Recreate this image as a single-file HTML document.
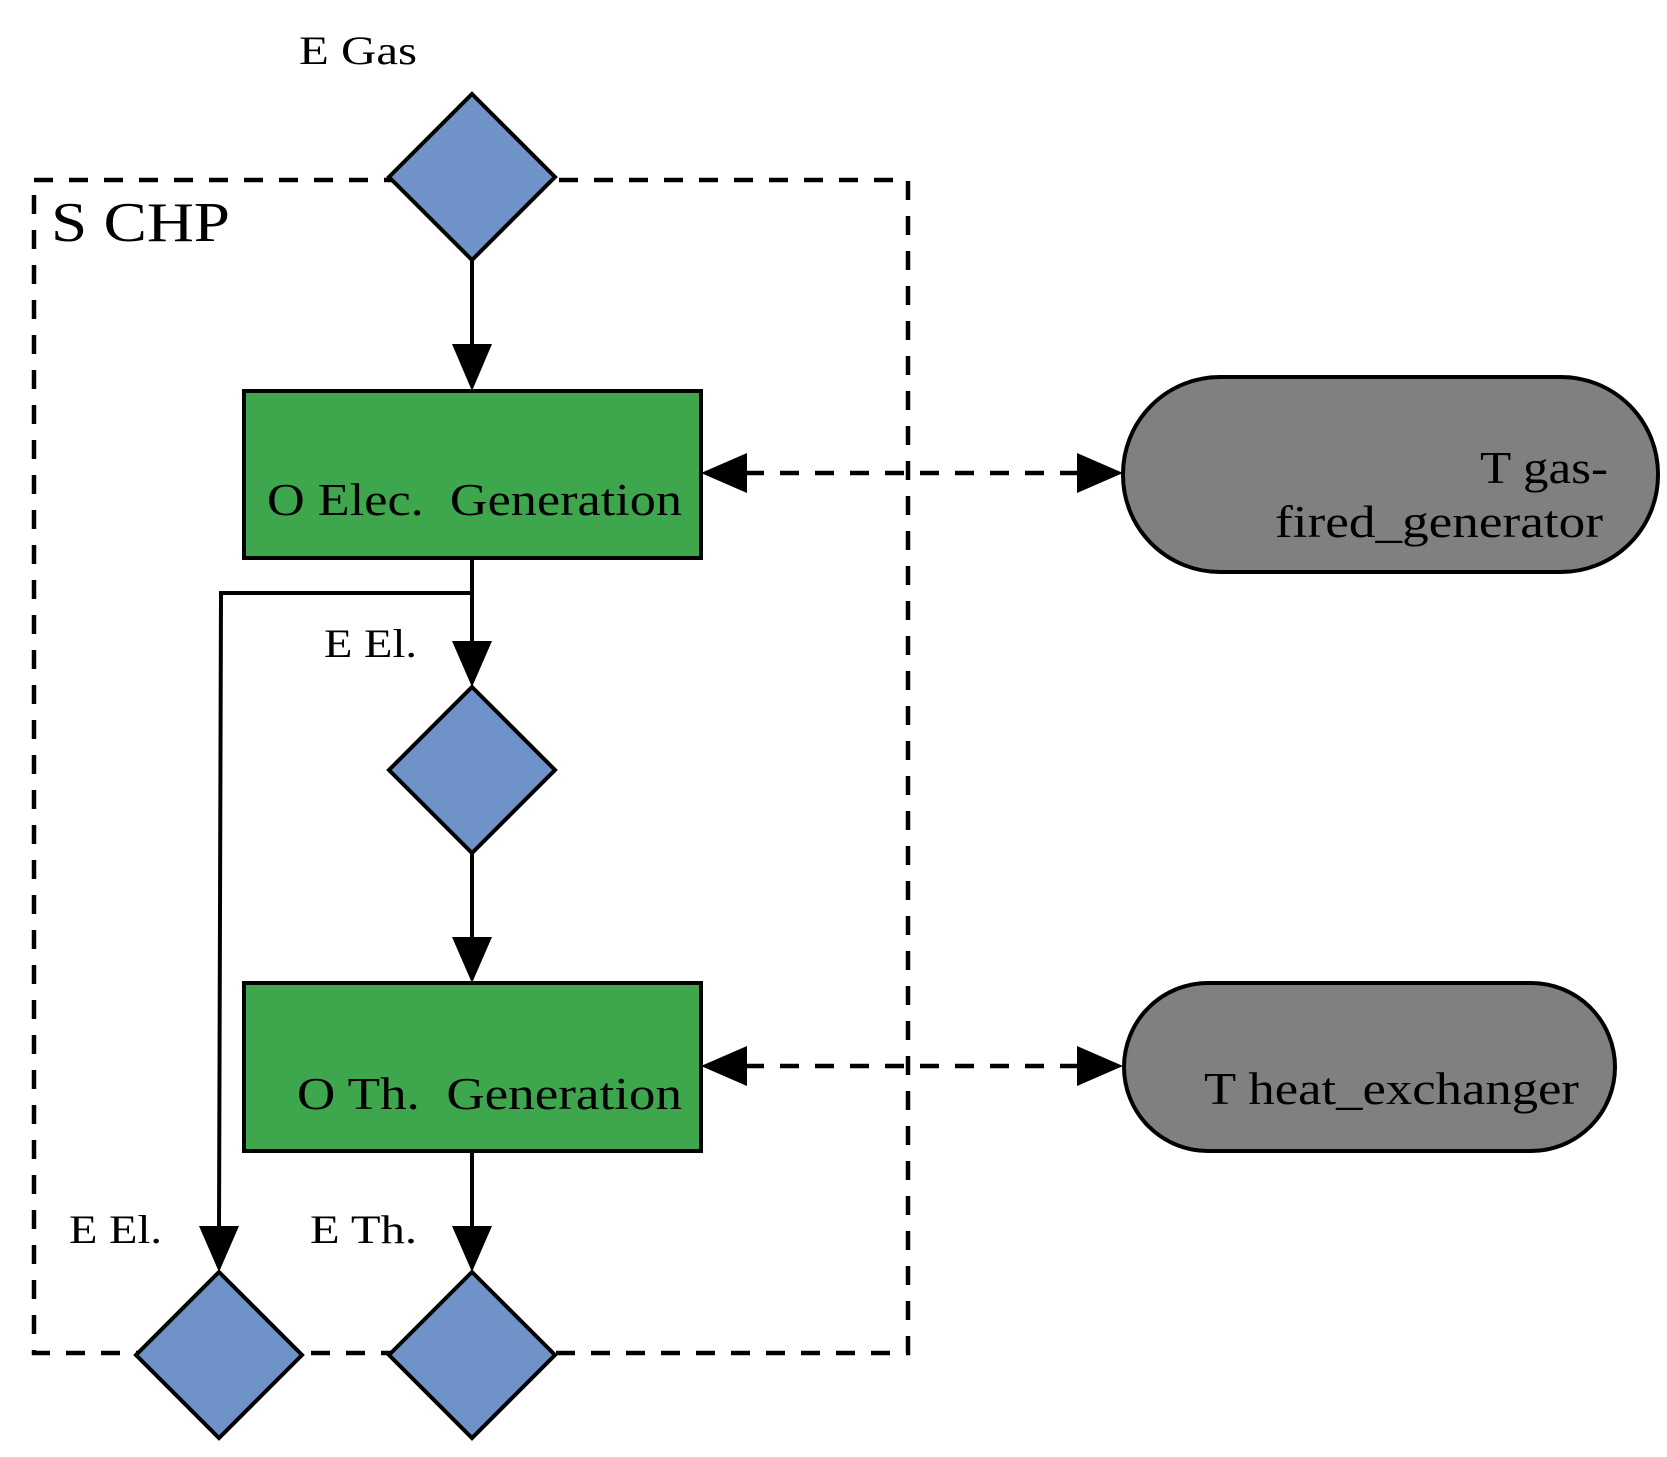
<!DOCTYPE html>
<html><head><meta charset="utf-8"><style>
html,body{margin:0;padding:0;background:#fff;}
svg{display:block;}
text{font-family:"Liberation Serif",serif;fill:#000;}
</style></head><body>
<svg width="1667" height="1457" viewBox="0 0 1667 1457" xmlns="http://www.w3.org/2000/svg">
<!-- dashed system box -->
<rect x="34" y="180" width="874" height="1173" fill="none" stroke="#000" stroke-width="4.5" stroke-dasharray="19,16"/>
<text x="51" y="241" font-size="56" textLength="179" lengthAdjust="spacingAndGlyphs">S CHP</text>
<text x="299" y="64" font-size="40" textLength="118" lengthAdjust="spacingAndGlyphs">E Gas</text>

<!-- top diamond -->
<polygon points="472,94 555,177 472,260 389,177" fill="#6f93c9" stroke="#000" stroke-width="4"/>
<line x1="472" y1="260" x2="472" y2="350" stroke="#000" stroke-width="4"/>
<polygon points="452,344 492,344 472,391" fill="#000"/>

<!-- rect1 -->
<rect x="244" y="391" width="457" height="167" fill="#3ea64d" stroke="#000" stroke-width="4"/>
<text x="267" y="515" font-size="45" textLength="415" lengthAdjust="spacingAndGlyphs" xml:space="preserve">O Elec.  Generation</text>

<!-- pill1 -->
<rect x="1123" y="377" width="535" height="195" rx="97" ry="97" fill="#808080" stroke="#000" stroke-width="4"/>
<text x="1480" y="483" font-size="45" textLength="128" lengthAdjust="spacingAndGlyphs">T gas-</text>
<text x="1275" y="537" font-size="45" textLength="328" lengthAdjust="spacingAndGlyphs">fired_generator</text>

<line x1="745" y1="473" x2="1078" y2="473" stroke="#000" stroke-width="4.5" stroke-dasharray="19,16"/>
<polygon points="701,473 747,453 747,493" fill="#000"/>
<polygon points="1123,473 1077,453 1077,493" fill="#000"/>

<!-- junction lines -->
<line x1="472" y1="558" x2="472" y2="645" stroke="#000" stroke-width="4"/>
<polygon points="452,641 492,641 472,687" fill="#000"/>
<polyline points="472,593 221,593 219,1230" fill="none" stroke="#000" stroke-width="4"/>
<polygon points="199,1226 239,1226 219,1272" fill="#000"/>
<text x="324" y="657" font-size="40" textLength="93" lengthAdjust="spacingAndGlyphs">E El.</text>

<!-- diamond 2 -->
<polygon points="472,687 555,770 472,853 389,770" fill="#6f93c9" stroke="#000" stroke-width="4"/>
<line x1="472" y1="853" x2="472" y2="942" stroke="#000" stroke-width="4"/>
<polygon points="452,937 492,937 472,983" fill="#000"/>

<!-- rect2 -->
<rect x="244" y="983" width="457" height="168" fill="#3ea64d" stroke="#000" stroke-width="4"/>
<text x="297" y="1109" font-size="45" textLength="385" lengthAdjust="spacingAndGlyphs" xml:space="preserve">O Th.  Generation</text>

<!-- pill2 -->
<rect x="1124" y="983" width="491" height="168" rx="84" ry="84" fill="#808080" stroke="#000" stroke-width="4"/>
<text x="1204" y="1104" font-size="45" textLength="375" lengthAdjust="spacingAndGlyphs">T heat_exchanger</text>

<line x1="745" y1="1066" x2="1078" y2="1066" stroke="#000" stroke-width="4.5" stroke-dasharray="19,16"/>
<polygon points="701,1066 747,1046 747,1086" fill="#000"/>
<polygon points="1123,1066 1077,1046 1077,1086" fill="#000"/>

<line x1="472" y1="1151" x2="472" y2="1230" stroke="#000" stroke-width="4"/>
<polygon points="452,1226 492,1226 472,1272" fill="#000"/>
<text x="69" y="1243" font-size="40" textLength="93" lengthAdjust="spacingAndGlyphs">E El.</text>
<text x="310" y="1243" font-size="40" textLength="107" lengthAdjust="spacingAndGlyphs">E Th.</text>

<!-- bottom diamonds -->
<polygon points="219,1272 302,1355 219,1438 136,1355" fill="#6f93c9" stroke="#000" stroke-width="4"/>
<polygon points="472,1272 555,1355 472,1438 389,1355" fill="#6f93c9" stroke="#000" stroke-width="4"/>
</svg>
</body></html>
